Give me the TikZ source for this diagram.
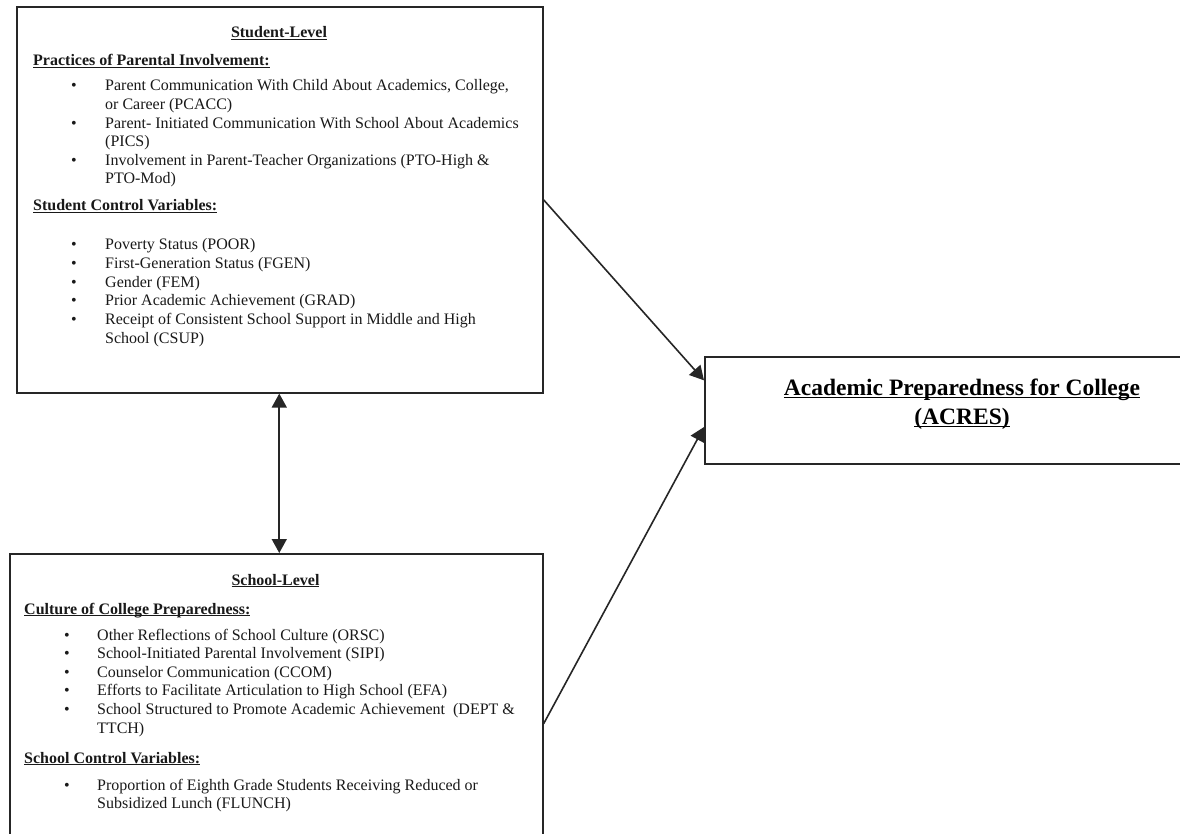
\documentclass[tikz,border=0pt]{standalone}
\usepackage{fontspec}
\setmainfont{Liberation Serif}
\usetikzlibrary{arrows.meta,calc}
\newcommand{\myul}[1]{\setbox0\hbox{#1}\rlap{\rule[-0.14em]{\wd0}{0.07em}}\box0}
\tikzset{
  panel/.style={draw=black!85, line width=1.6pt, rectangle, inner sep=0pt, anchor=north west},
  body/.style={font=\fontsize{16}{18.6}\selectfont, anchor=base west, inner sep=0pt, text=black!90},
  hdr/.style={font=\fontsize{16}{18.6}\selectfont\bfseries, anchor=base west, inner sep=0pt, text=black!90},
  ctitle/.style={font=\fontsize{16}{18.6}\selectfont\bfseries, anchor=base, inner sep=0pt, text=black!90},
  bigtitle/.style={font=\fontsize{23.5}{27}\selectfont\bfseries, anchor=base, inner sep=0pt, text=black},
  tip/.tip={Triangle[length=14pt,width=15pt]},
  conn/.style={line width=1.6pt, draw=black!85, -tip},
  bconn/.style={line width=1.6pt, draw=black!85, tip-tip}
}
\begin{document}
\begin{tikzpicture}[x=1pt,y=-1pt]
\useasboundingbox (0,0) rectangle (1180,834);
\clip (0,0) rectangle (1180,834);
\fill[white] (0,0) rectangle (1180,834);

% boxes
\node[panel, minimum width=526pt, minimum height=386pt] (student) at (16,6) {};
\node[panel, minimum width=533pt, minimum height=340pt] (school) at (9,553) {};
\node[panel, minimum width=516pt, minimum height=107pt] (acres) at (704,356) {};

% student box text
\node[ctitle] (sl) at (279,38) {\myul{Student-Level}};
\node[hdr] (ppi) at (33,66) {\myul{Practices of Parental Involvement:}};
\node[body] (sb1) at (71,91) {•};
\node[body] (st1) at (105,91) {Parent Communication With Child About Academics, College,};
\node[body] (st1b) at (105,109.6) {or Career (PCACC)};
\node[body] (sb2) at (71,128.2) {•};
\node[body] (st2) at (105,128.2) {Parent- Initiated Communication With School About Academics};
\node[body] (st2b) at (105,146.8) {(PICS)};
\node[body] (sb3) at (71,165.4) {•};
\node[body] (st3) at (105,165.4) {Involvement in Parent-Teacher Organizations (PTO-High \&};
\node[body] (st3b) at (105,184) {PTO-Mod)};
\node[hdr] (scv) at (33,211) {\myul{Student Control Variables:}};
\node[body] (cb1) at (71,250) {•};
\node[body] (ct1) at (105,250) {Poverty Status (POOR)};
\node[body] (cb2) at (71,268.6) {•};
\node[body] (ct2) at (105,268.6) {First-Generation Status (FGEN)};
\node[body] (cb3) at (71,287.2) {•};
\node[body] (ct3) at (105,287.2) {Gender (FEM)};
\node[body] (cb4) at (71,305.8) {•};
\node[body] (ct4) at (105,305.8) {Prior Academic Achievement (GRAD)};
\node[body] (cb5) at (71,324.4) {•};
\node[body] (ct5) at (105,324.4) {Receipt of Consistent School Support in Middle and High};
\node[body] (ct5b) at (105,343) {School (CSUP)};

% school box text
\node[ctitle] (schl) at (275.5,585) {\myul{School-Level}};
\node[hdr] (ccp) at (24,614) {\myul{Culture of College Preparedness:}};
\node[body] (kb1) at (64,640) {•};
\node[body] (kt1) at (97,640) {Other Reflections of School Culture (ORSC)};
\node[body] (kb2) at (64,658.6) {•};
\node[body] (kt2) at (97,658.6) {School-Initiated Parental Involvement (SIPI)};
\node[body] (kb3) at (64,677.2) {•};
\node[body] (kt3) at (97,677.2) {Counselor Communication (CCOM)};
\node[body] (kb4) at (64,695.8) {•};
\node[body] (kt4) at (97,695.8) {Efforts to Facilitate Articulation to High School (EFA)};
\node[body] (kb5) at (64,714.4) {•};
\node[body] (kt5) at (97,714.4) {School Structured to Promote Academic Achievement\ \ (DEPT \&};
\node[body] (kt5b) at (97,733) {TTCH)};
\node[hdr] (sccv) at (24,763) {\myul{School Control Variables:}};
\node[body] (lb1) at (64,790) {•};
\node[body] (lt1) at (97,790) {Proportion of Eighth Grade Students Receiving Reduced or};
\node[body] (lt1b) at (97,808.6) {Subsidized Lunch (FLUNCH)};

% outcome text
\node[bigtitle] (ot1) at (962,395) {\myul{Academic Preparedness for College}};
\node[bigtitle] (ot2) at (962,424) {\myul{(ACRES)}};

% connectors
\coordinate (ain1) at ($(acres.north west)!0.224!(acres.south west)$);
\coordinate (ain2) at ($(acres.north west)!0.654!(acres.south west)$);
\coordinate (sbot) at ($(student.south west)!0.499!(student.south east)$);
\coordinate (ktop) at (sbot |- school.north);
\draw[conn] (student.east) -- (ain1);
\draw[conn] (school.east) -- (ain2);
\draw[bconn] (sbot) -- (ktop);
\end{tikzpicture}
\end{document}
